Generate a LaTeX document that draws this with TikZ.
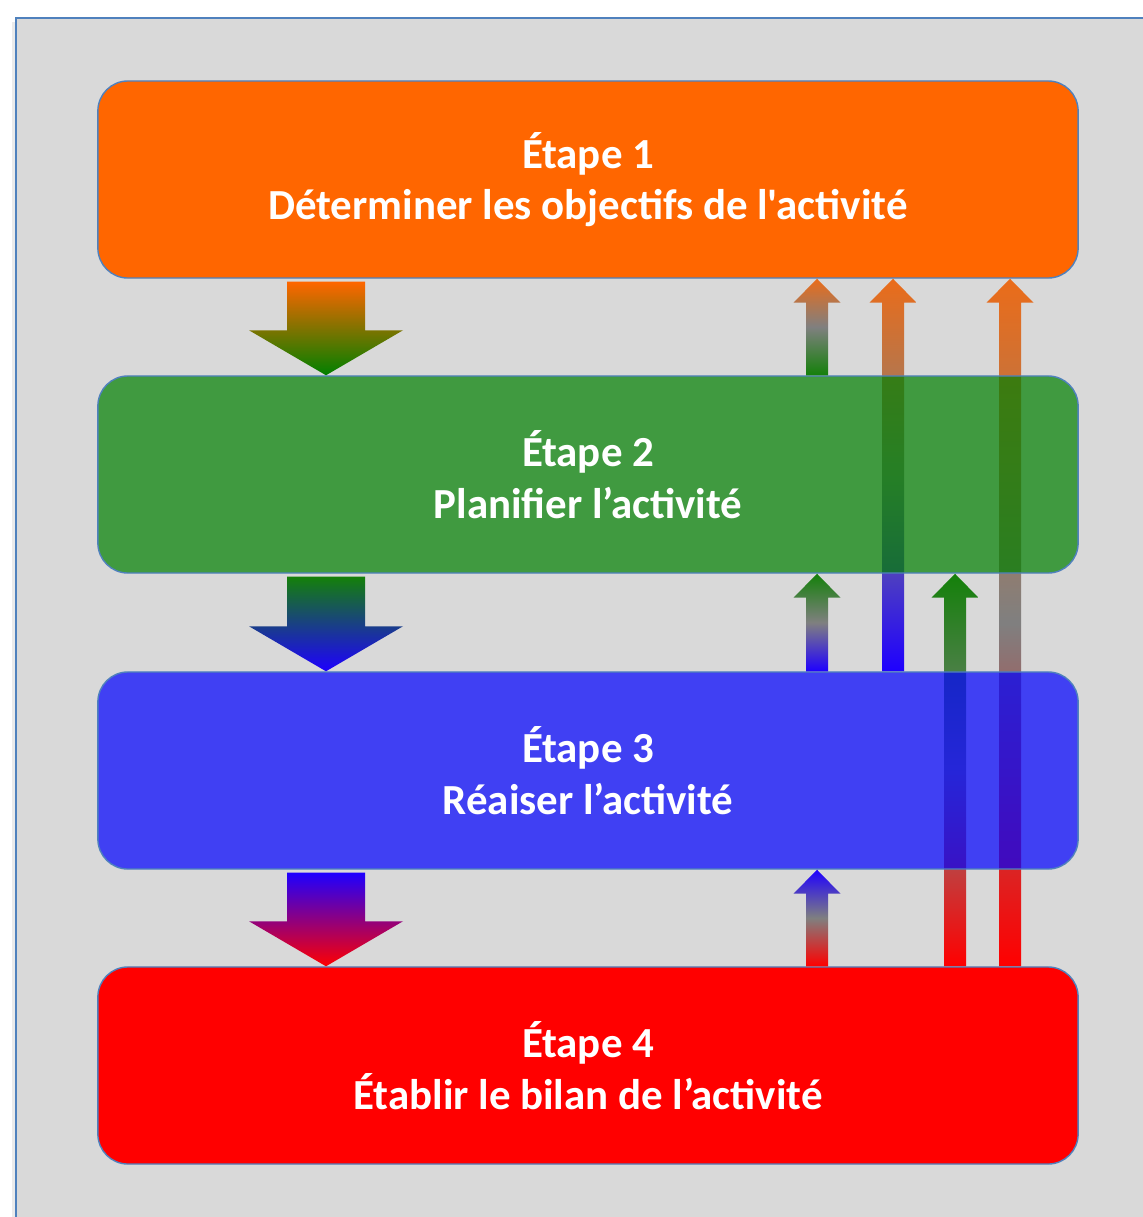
\documentclass[tikz,border=0pt]{standalone}
\usepackage{fontspec}
\setmainfont{Carlito}[Ligatures=TeXOff]
\usepackage{tikz}
\usetikzlibrary{calc}
\pgfdeclarelayer{back}
\pgfsetlayers{back,main}

\definecolor{frameblue}{RGB}{79,129,189}
\definecolor{panelgray}{RGB}{217,217,217}
\definecolor{stepor}{RGB}{255,102,0}
\definecolor{stepgr}{RGB}{0,128,0}
\definecolor{stepbl}{RGB}{0,0,255}
\definecolor{steprd}{RGB}{255,0,0}
\definecolor{arror}{RGB}{235,108,25}
\definecolor{arrgr}{RGB}{20,128,10}
\definecolor{arrbl}{RGB}{30,0,255}
\definecolor{arrrd}{RGB}{255,0,0}

\tikzset{
  stepbox/.style={draw=frameblue, line width=1pt, rounded corners=0.75cm,
    minimum width=24.5cm, minimum height=4.925cm, inner sep=0pt,
    text=white, align=center, font=\bfseries\fontsize{30.5}{36.5}\selectfont},
}

% up arrow: column, from (lower) node, to (upper) node, head colour, tail colour
\newcommand{\uparr}[5]{%
  \shade[top color=#4, bottom color=#5, middle color=gray]
    ($(#2.north -| #1)+(-11,0)$) -- ($(#3.south -| #1)+(-11,24)$)
    -- ($(#3.south -| #1)+(-23.5,24)$) -- (#3.south -| #1)
    -- ($(#3.south -| #1)+(23.5,24)$) -- ($(#3.south -| #1)+(11,24)$)
    -- ($(#2.north -| #1)+(11,0)$) -- cycle;}
% down arrow: from node, to node, top colour, bottom colour
\newcommand{\downarr}[4]{%
  \shade[top color=#3, bottom color=#4]
    ($(#1.south -| d)+(-39,3)$) -- ($(#2.north -| d)+(-39,-45)$)
    -- ($(#2.north -| d)+(-77,-45)$) -- (#2.north -| d)
    -- ($(#2.north -| d)+(77,-45)$) -- ($(#2.north -| d)+(39,-45)$)
    -- ($(#1.south -| d)+(39,3)$) -- cycle;}

\begin{document}
\begin{tikzpicture}[x=0.025cm, y=-0.025cm]
        \useasboundingbox (0,0) rectangle (1143,1217);
        \coordinate (d) at (326,0);
        \coordinate (k1) at (817,0);
        \coordinate (k2) at (893,0);
        \coordinate (k3) at (955,0);
        \coordinate (k4) at (1010,0);
        \node[stepbox, fill=stepor] (s1) at (588,179.5) {Étape 1\\Déterminer les objectifs de l'activité};
        \node[stepbox, fill=stepgr, fill opacity=0.7, text opacity=1] (s2) at (588,474.5) {Étape 2\\Planifier l’activité};
        \node[stepbox, fill=stepbl, fill opacity=0.7, text opacity=1] (s3) at (588,770.5) {Étape 3\\Réaiser l’activité};
        \node[stepbox, fill=steprd] (s4) at (588,1065.5) {Étape 4\\Établir le bilan de l’activité};
        \begin{pgfonlayer}{back}
        \fill[black!8] (12,22) rectangle (16,1217);
        \fill[panelgray] (16,18) rectangle (1143,1217);
        \draw[frameblue, line width=1.2pt] (16,1217) -- (16,18) -- (1143,18);
        \uparr{k2}{s3}{s1}{arror}{arrbl}
        \uparr{k3}{s4}{s2}{arrgr}{arrrd}
        \uparr{k4}{s4}{s1}{arror}{arrrd}
        \end{pgfonlayer}
        \downarr{s1}{s2}{stepor}{stepgr}
        \downarr{s2}{s3}{arrgr}{arrbl}
        \downarr{s3}{s4}{arrbl}{steprd}
        \uparr{k1}{s2}{s1}{arror}{arrgr}
        \uparr{k1}{s3}{s2}{arrgr}{arrbl}
        \uparr{k1}{s4}{s3}{arrbl}{arrrd}
\end{tikzpicture}
\end{document}
